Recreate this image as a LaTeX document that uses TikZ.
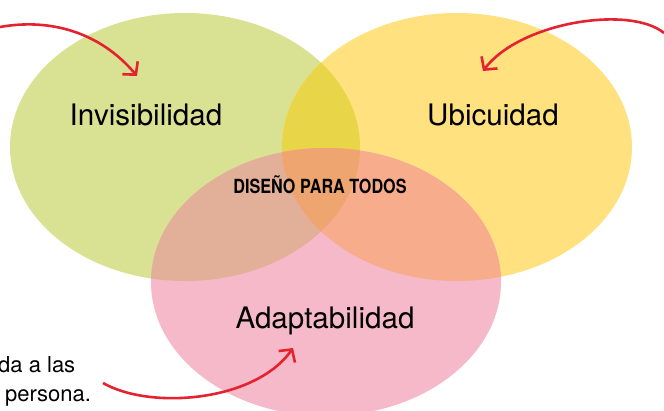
\documentclass[tikz,border=0pt]{standalone}
\usepackage{fontspec}
\setmainfont{TeX Gyre Heros}
\newfontfamily\condensada[FakeStretch=0.83]{TeX Gyre Heros}
\usepackage{tikz}
\usetikzlibrary{arrows.meta}
\usepackage{xcolor}
\definecolor{verde}{HTML}{D8E292}
\definecolor{amarillo}{HTML}{FFE17F}
\definecolor{rosa}{HTML}{F5B9CA}
\definecolor{verdeamarillo}{HTML}{E8D548}
\definecolor{verderosa}{HTML}{E2AF98}
\definecolor{amarillorosa}{HTML}{F7AC8C}
\definecolor{centro}{HTML}{EEA56F}
\definecolor{rojo}{HTML}{E52330}

\begin{document}
\begin{tikzpicture}[x=1pt,y=-1pt,
	flecha/.style={draw=rojo,line width=2.6pt,-{Straight Barb[length=9pt,width=20pt]}},
	etiqueta/.style={font=\fontsize{29.6}{29.6}\selectfont,anchor=base,inner sep=0pt}]
			\useasboundingbox (0,0) rectangle (664,410);
			\clip (0,0) rectangle (664,410);
			%elipses
			\fill[verde] (185,147) ellipse [x radius=175,y radius=134];
			\fill[amarillo] (457,147) ellipse [x radius=175,y radius=134];
			\fill[rosa] (326,282) ellipse [x radius=175,y radius=134];
			%cruces
			\begin{scope}
				\clip (185,147) ellipse [x radius=175,y radius=134];
				\fill[verdeamarillo] (457,147) ellipse [x radius=175,y radius=134];
				\fill[verderosa] (326,282) ellipse [x radius=175,y radius=134];
			\end{scope}
			\begin{scope}
				\clip (457,147) ellipse [x radius=175,y radius=134];
				\fill[amarillorosa] (326,282) ellipse [x radius=175,y radius=134];
			\end{scope}
			\begin{scope}
				\clip (185,147) ellipse [x radius=175,y radius=134];
				\clip (457,147) ellipse [x radius=175,y radius=134];
				\fill[centro] (326,282) ellipse [x radius=175,y radius=134];
			\end{scope}
			%textos
			\node[etiqueta] (invisibilidad) at (146,125) {Invisibilidad};
			\node[etiqueta] (ubicuidad) at (493,125) {Ubicuidad};
			\node[etiqueta] (adaptabilidad) at (325,328) {Adaptabilidad};
			\node[anchor=base,inner sep=0pt,font=\condensada\bfseries\fontsize{19.5}{19.5}\selectfont] (diseno) at (320,193) {DISEÑO PARA TODOS};
			\node[anchor=base west,inner sep=0pt,font=\fontsize{22}{22}\selectfont] (linea1) at (-2,372) {da a las};
			\node[anchor=base west,inner sep=0pt,font=\fontsize{22}{22}\selectfont] (linea2) at (5,401) {persona.};
			%flechas
			\coordinate (ini1) at (0,27);
			\coordinate (fin1) at (137,76);
			\coordinate (ini2) at (664,33);
			\coordinate (fin2) at (483,71);
			\coordinate (ini3) at (103,383);
			\coordinate (fin3) at (293,348);
			\draw[flecha] (ini1) .. controls (50,18) and (100,32) .. (fin1);
			\draw[flecha] (ini2) .. controls (630,5) and (520,22) .. (fin2);
			\draw[flecha] (ini3) .. controls (150,410) and (255,402) .. (fin3);
		\end{tikzpicture}
\end{document}
